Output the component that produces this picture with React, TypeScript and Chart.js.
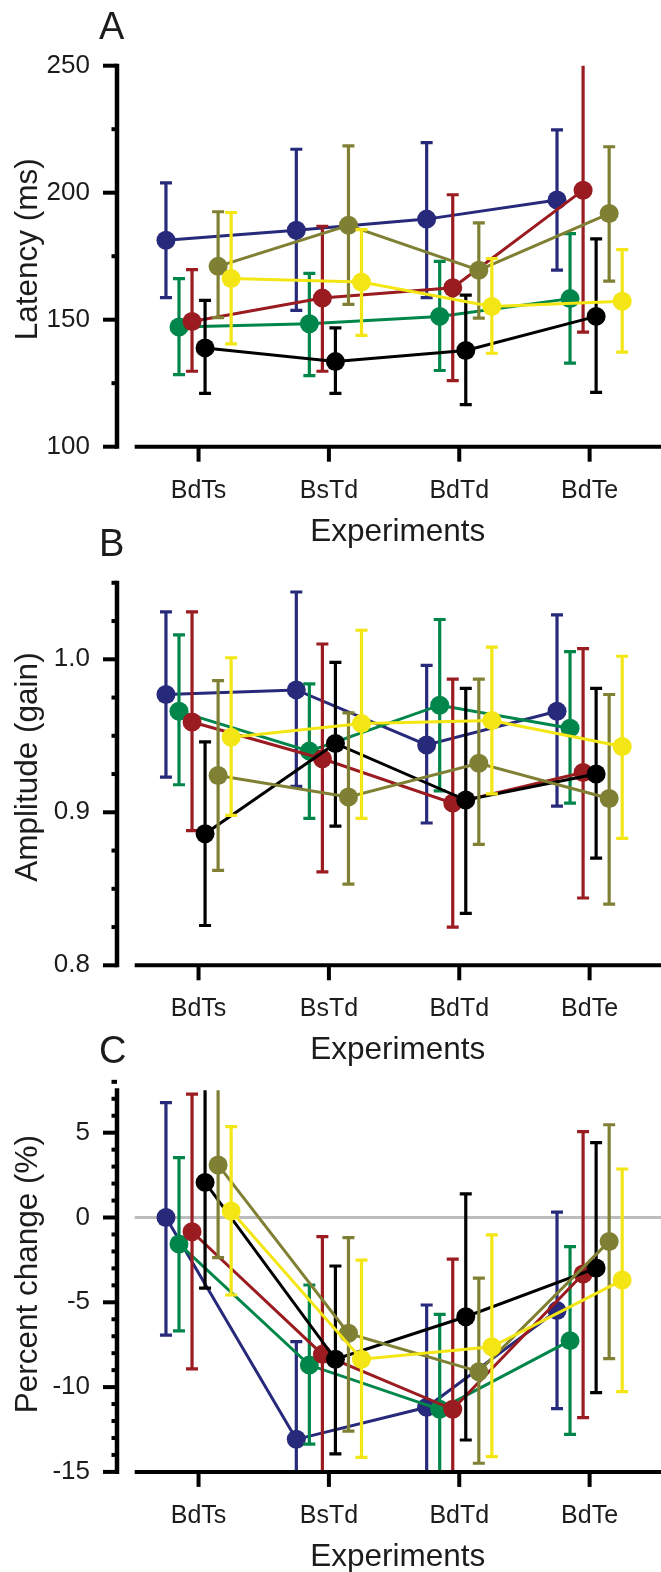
import React, { useEffect, useRef } from 'react';
import { Chart, registerables } from 'chart.js';

Chart.register(...registerables);

// ---------- data ----------
const experiments = ['BdTs', 'BsTd', 'BdTd', 'BdTe'];
const seriesNames = ['Subject 1', 'Subject 2', 'Subject 3', 'Subject 4', 'Subject 5', 'Subject 6'];
const seriesColors = ['#27297a', '#00864b', '#9a1b20', '#000000', '#808034', '#f3e614'];
const seriesOffsets = [-0.25, -0.15, -0.05, 0.05, 0.15, 0.25];

// Panel A: latency (ms)
const latencyMean = [
  [181.3, 185.2, 189.6, 197.1],
  [147.1, 148.4, 151.3, 158.3],
  [149.3, 158.5, 162.6, 201.0],
  [138.9, 133.5, 137.9, 151.3],
  [171.0, 187.2, 169.5, 191.8],
  [166.2, 164.8, 155.2, 157.3],
];
const latencyLow = [
  [158.7, 153.7, 158.7, 169.5],
  [128.4, 128.0, 130.0, 132.9],
  [129.7, 129.7, 126.0, 145.1],
  [121.0, 121.0, 116.6, 121.4],
  [150.8, 156.0, 150.6, 165.2],
  [140.5, 143.8, 136.8, 137.2],
];
const latencyHigh = [
  [203.9, 217.1, 219.7, 224.7],
  [166.2, 168.2, 173.0, 183.9],
  [169.7, 186.8, 199.2, 255.0],
  [157.6, 146.8, 159.7, 181.8],
  [192.5, 218.4, 188.1, 218.1],
  [192.2, 185.5, 174.1, 177.6],
];
const latencyTickValues = [100, 150, 200, 250];
const latencyTickLabels = ['100', '150', '200', '250'];

// Panel B: amplitude (gain)
const amplitudeMean = [
  [0.977, 0.980, 0.944, 0.966],
  [0.966, 0.940, 0.970, 0.955],
  [0.959, 0.935, 0.906, 0.926],
  [0.886, 0.945, 0.908, 0.925],
  [0.924, 0.910, 0.932, 0.909],
  [0.949, 0.958, 0.960, 0.943],
];
const amplitudeLow = [
  [0.923, 0.917, 0.893, 0.904],
  [0.918, 0.896, 0.914, 0.906],
  [0.888, 0.861, 0.825, 0.844],
  [0.826, 0.891, 0.834, 0.870],
  [0.862, 0.853, 0.879, 0.840],
  [0.898, 0.896, 0.912, 0.883],
];
const amplitudeHigh = [
  [1.031, 1.044, 0.996, 1.029],
  [1.016, 0.984, 1.026, 1.005],
  [1.031, 1.010, 0.987, 1.007],
  [0.946, 0.998, 0.981, 0.981],
  [0.986, 0.965, 0.987, 0.977],
  [1.001, 1.019, 1.008, 1.002],
];
const amplitudeTickValues = [0.8, 0.9, 1.0];
const amplitudeTickLabels = ['0.8', '0.9', '1.0'];

// Panel C: percent change (%)
const changeMean = [
  [0.0, -13.08, -11.19, -5.49],
  [-1.56, -8.70, -11.31, -7.26],
  [-0.84, -8.07, -11.31, -3.33],
  [2.07, -8.36, -5.85, -2.98],
  [3.10, -6.83, -9.09, -1.41],
  [0.38, -8.36, -7.62, -3.69],
];
const changeLow = [
  [-6.93, -16.5, -16.5, -11.27],
  [-6.69, -13.36, -16.5, -12.79],
  [-8.93, -16.5, -16.5, -11.80],
  [-4.16, -13.94, -13.12, -10.33],
  [-2.37, -12.59, -14.49, -8.32],
  [-4.57, -14.14, -14.10, -10.27],
];
const changeHigh = [
  [6.77, -7.32, -5.16, 0.32],
  [3.53, -3.98, -5.71, -1.72],
  [7.28, -1.13, -2.45, 5.06],
  [8.6, -2.86, 1.39, 4.41],
  [9.3, -1.19, -3.57, 5.47],
  [5.36, -2.51, -1.03, 2.86],
];
const changeTickValues = [-15, -10, -5, 0, 5];
const changeTickLabels = ['-15', '-10', '-5', '0', '5'];

// ---------- styling ----------
const FONT = '"Liberation Sans", Arial, Helvetica, sans-serif';
const TEXT = '#1e1b1c';
const CANVAS_W = 661;
const X_MIN = -0.6256;
const X_MAX = 3.4748;
const X_AXIS_START = -0.49;

type PanelSpec = {
  letter: string;
  yTitle: string;
  top: number;
  height: number;
  areaTop: number;
  areaBottom: number;
  yMin: number;
  yMax: number;
  yStep: number;
  tickValues: number[];
  tickLabels: string[];
  mean: number[][];
  low: number[][];
  high: number[][];
  zeroLine: boolean;
};

const panels: PanelSpec[] = [
  {
    letter: 'A', yTitle: 'Latency (ms)', top: 0, height: 560, areaTop: 65.7, areaBottom: 446.7,
    yMin: 100, yMax: 250, yStep: 25, tickValues: latencyTickValues, tickLabels: latencyTickLabels,
    mean: latencyMean, low: latencyLow, high: latencyHigh, zeroLine: false,
  },
  {
    letter: 'B', yTitle: 'Amplitude (gain)', top: 520, height: 560, areaTop: 62.8, areaBottom: 445.3,
    yMin: 0.8, yMax: 1.05, yStep: 0.025, tickValues: amplitudeTickValues, tickLabels: amplitudeTickLabels,
    mean: amplitudeMean, low: amplitudeLow, high: amplitudeHigh, zeroLine: false,
  },
  {
    letter: 'C', yTitle: 'Percent change (%)', top: 1020, height: 552, areaTop: 70.3, areaBottom: 451.9,
    yMin: -15, yMax: 7.5, yStep: 1, tickValues: changeTickValues, tickLabels: changeTickLabels,
    mean: changeMean, low: changeLow, high: changeHigh, zeroLine: true,
  },
];

function labelFor(spec: PanelSpec, v: number): string {
  for (let k = 0; k < spec.tickValues.length; k++) {
    if (Math.abs(spec.tickValues[k] - v) < spec.yStep * 1e-3) return spec.tickLabels[k];
  }
  return '';
}

function Panel({ spec }: { spec: PanelSpec }) {
  const ref = useRef<HTMLCanvasElement>(null);

  useEffect(() => {
    const canvas = ref.current;
    if (!canvas) return;

    const decor = {
      id: 'panelDecor',
      beforeDatasetsDraw(chart: any) {
        if (!spec.zeroLine) return;
        const ctx = chart.ctx;
        const x = chart.scales.x;
        const y = chart.scales.y;
        const py = y.getPixelForValue(0);
        ctx.save();
        ctx.strokeStyle = '#bdbdbd';
        ctx.lineWidth = 3;
        ctx.beginPath();
        ctx.moveTo(x.getPixelForValue(X_AXIS_START), py);
        ctx.lineTo(chart.width, py);
        ctx.stroke();
        ctx.restore();
      },
      beforeDatasetDraw(chart: any, args: any) {
        const i = args.index;
        const ctx = chart.ctx;
        const xs = chart.scales.x;
        const ys = chart.scales.y;
        const area = chart.chartArea;
        ctx.save();
        ctx.beginPath();
        ctx.rect(0, area.top, chart.width, area.bottom - area.top);
        ctx.clip();
        ctx.strokeStyle = seriesColors[i];
        ctx.lineWidth = 3.2;
        ctx.lineCap = 'butt';
        for (let j = 0; j < experiments.length; j++) {
          const px = xs.getPixelForValue(j + seriesOffsets[i]);
          const lo = ys.getPixelForValue(spec.low[i][j]);
          const hi = ys.getPixelForValue(spec.high[i][j]);
          ctx.beginPath();
          ctx.moveTo(px, lo);
          ctx.lineTo(px, hi);
          ctx.moveTo(px - 6, lo);
          ctx.lineTo(px + 6, lo);
          ctx.moveTo(px - 6, hi);
          ctx.lineTo(px + 6, hi);
          ctx.stroke();
        }
        ctx.restore();
      },
      afterDatasetsDraw(chart: any) {
        const ctx = chart.ctx;
        const xs = chart.scales.x;
        const ys = chart.scales.y;
        const area = chart.chartArea;
        ctx.save();
        ctx.strokeStyle = '#000';
        ctx.lineCap = 'butt';
        // y axis line
        ctx.lineWidth = 4.5;
        ctx.beginPath();
        ctx.moveTo(area.left, area.top - 2);
        ctx.lineTo(area.left, area.bottom + 2);
        ctx.stroke();
        // y ticks
        ctx.lineWidth = 4;
        for (const t of ys.ticks) {
          const py = ys.getPixelForValue(t.value);
          const major = labelFor(spec, t.value) !== '';
          ctx.beginPath();
          ctx.moveTo(area.left - (major ? 14 : 5.5), py);
          ctx.lineTo(area.left, py);
          ctx.stroke();
        }
        // x axis line
        ctx.lineWidth = 4;
        ctx.beginPath();
        ctx.moveTo(xs.getPixelForValue(X_AXIS_START), area.bottom);
        ctx.lineTo(chart.width, area.bottom);
        ctx.stroke();
        // x ticks
        for (const t of xs.ticks) {
          const px = xs.getPixelForValue(t.value);
          ctx.beginPath();
          ctx.moveTo(px, area.bottom);
          ctx.lineTo(px, area.bottom + 15);
          ctx.stroke();
        }
        ctx.restore();
      },
      afterDraw(chart: any) {
        const ctx = chart.ctx;
        const xs = chart.scales.x;
        const area = chart.chartArea;
        ctx.save();
        ctx.fillStyle = TEXT;
        // panel letter
        ctx.font = `38px ${FONT}`;
        ctx.textAlign = 'left';
        ctx.textBaseline = 'alphabetic';
        ctx.fillText(spec.letter, 99, area.top - 27);
        // x title
        ctx.font = `31.5px ${FONT}`;
        ctx.textAlign = 'center';
        const xStart = xs.getPixelForValue(X_AXIS_START);
        ctx.fillText('Experiments', (xStart + chart.width) / 2, area.bottom + 94);
        // y title
        ctx.translate(28, (area.top + area.bottom) / 2 - 7);
        ctx.rotate(-Math.PI / 2);
        ctx.textBaseline = 'middle';
        ctx.fillText(spec.yTitle, 0, 0);
        ctx.restore();
      },
    };

    const datasets = spec.mean.map((row, i) => ({
      label: seriesNames[i],
      data: row.map((v, j) => ({ x: j + seriesOffsets[i], y: v })),
      showLine: true,
      borderColor: seriesColors[i],
      backgroundColor: seriesColors[i],
      pointBackgroundColor: seriesColors[i],
      pointBorderColor: seriesColors[i],
      pointBorderWidth: 0,
      pointRadius: 9.5,
      pointHoverRadius: 9.5,
      borderWidth: 3,
      order: seriesColors.length - i,
    }));

    const chart = new Chart(canvas, {
      type: 'scatter',
      data: { datasets },
      plugins: [decor],
      options: {
        responsive: false,
        animation: false,
        events: [],
        layout: { padding: { top: spec.areaTop, left: 0, right: 0, bottom: 0 } },
        plugins: { legend: { display: false }, tooltip: { enabled: false }, title: { display: false } },
        scales: {
          x: {
            type: 'linear',
            min: X_MIN,
            max: X_MAX,
            bounds: 'data',
            grid: { display: false, drawTicks: false, tickLength: 0 },
            border: { display: false },
            afterBuildTicks: (s: any) => {
              s.ticks = experiments.map((_, k) => ({ value: k }));
            },
            afterFit: (s: any) => {
              s.height = spec.height - spec.areaBottom;
            },
            ticks: {
              autoSkip: false,
              maxRotation: 0,
              minRotation: 0,
              padding: 29,
              color: TEXT,
              font: { family: FONT, size: 25 },
              callback: (v: any) => experiments[Math.round(Number(v))] ?? '',
            },
          },
          y: {
            type: 'linear',
            min: spec.yMin,
            max: spec.yMax,
            bounds: 'data',
            grid: { display: false, drawTicks: false, tickLength: 0 },
            border: { display: false },
            afterBuildTicks: (s: any) => {
              const vals: { value: number }[] = [];
              const n = Math.round((spec.yMax - spec.yMin) / spec.yStep);
              for (let k = 0; k <= n; k++) vals.push({ value: spec.yMin + k * spec.yStep });
              s.ticks = vals;
            },
            afterFit: (s: any) => {
              s.width = 117;
            },
            ticks: {
              autoSkip: false,
              padding: 27,
              color: TEXT,
              font: { family: FONT, size: 26 },
              callback: (v: any) => labelFor(spec, Number(v)),
            },
          },
        },
      } as any,
    });

    return () => chart.destroy();
  }, [spec]);

  return (
    <canvas
      ref={ref}
      width={CANVAS_W}
      height={spec.height}
      style={{ position: 'absolute', left: 0, top: spec.top, width: CANVAS_W, height: spec.height }}
    />
  );
}

export default function App() {
  return (
    <div style={{ position: 'absolute', left: 0, top: 0, width: CANVAS_W, height: 1572, overflow: 'hidden', background: '#fff' }}>
      {panels.map((p) => (
        <Panel key={p.letter} spec={p} />
      ))}
    </div>
  );
}
